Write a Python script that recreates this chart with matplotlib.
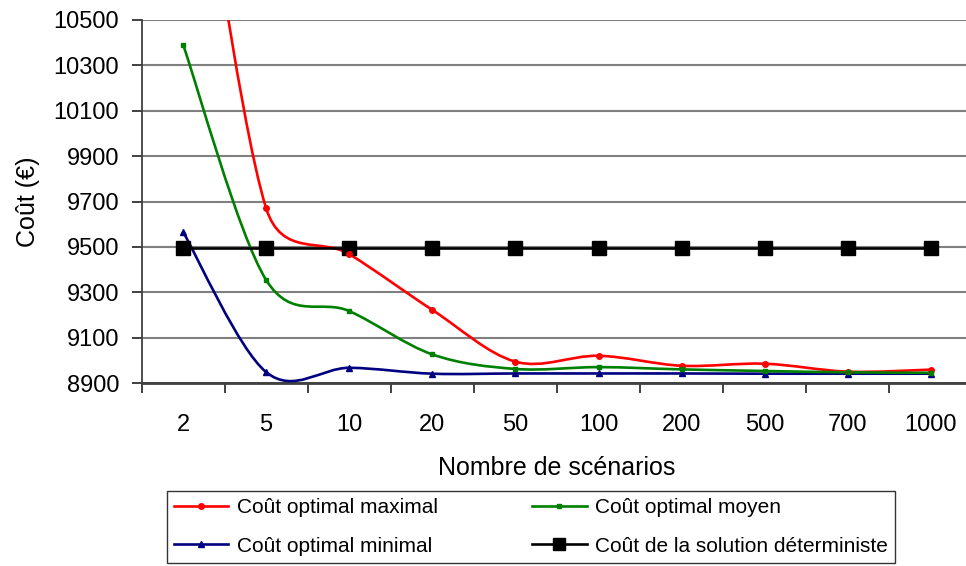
import matplotlib
matplotlib.use("Agg")
import numpy as np
import matplotlib.pyplot as plt
from matplotlib.path import Path
from matplotlib.patches import PathPatch
from matplotlib.lines import Line2D

plt.rcParams["font.family"] = ["Liberation Sans", "DejaVu Sans"]

CATEGORIES = ["2", "5", "10", "20", "50", "100", "200", "500", "700", "1000"]

COUT_MAX = [11800, 9670, 9468, 9222, 8994, 9020, 8976, 8985, 8950, 8959]
COUT_MOYEN = [10392, 9354, 9217, 9026, 8962, 8970, 8960, 8953, 8947, 8945]
COUT_MIN = [9566, 8948, 8967, 8941, 8942, 8942, 8942, 8941, 8941, 8941]
COUT_DETERMINISTE = [9497] * 10

Y_TICKS = list(range(8900, 10501, 200))

# pixel size of one unit on each axis, used to smooth in screen space
PX_X = 83.1
PX_Y = 363 / 1600


def smooth_path(xs, ys, cap=0.55):
    # bezier through the points, close to the spreadsheet "smoothed line"
    pts = np.column_stack([np.asarray(xs) * PX_X, np.asarray(ys) * PX_Y]).astype(float)
    n = len(pts)

    def ctrl(i, seg_len):
        p_prev = pts[i - 1] if i > 0 else pts[i]
        p_next = pts[i + 1] if i + 1 < n else pts[i]
        v = (p_next - p_prev) / 6
        norm = np.hypot(*v)
        if norm > cap * seg_len:
            v = v * cap * seg_len / norm
        return v

    verts = [pts[0]]
    codes = [Path.MOVETO]
    for i in range(n - 1):
        seg = np.hypot(*(pts[i + 1] - pts[i]))
        c1 = pts[i] + ctrl(i, seg)
        c2 = pts[i + 1] - ctrl(i + 1, seg)
        verts += [c1, c2, pts[i + 1]]
        codes += [Path.CURVE4] * 3
    verts = np.array(verts) / [PX_X, PX_Y]
    return Path(verts, codes)


fig = plt.figure(figsize=(9.66, 5.66), dpi=100)
ax = fig.add_axes([141.5 / 966, 183 / 566, 831 / 966, 363 / 566])

x = np.arange(len(CATEGORIES))

series = [
    (COUT_MAX, "#ff0000", "o", 4, "Coût optimal maximal", True),
    (COUT_MIN, "#000080", "^", 5, "Coût optimal minimal", True),
    (COUT_MOYEN, "#008000", "s", 3, "Coût optimal moyen", True),
    (COUT_DETERMINISTE, "#000000", "s", 10, "Coût de la solution déterministe", False),
]

handles = []
for values, color, marker, msize, label, smooth in series:
    if smooth:
        patch = PathPatch(smooth_path(x, values), facecolor="none",
                          edgecolor=color, lw=1.9, zorder=3)
        ax.add_patch(patch)
        ax.plot(x, values, linestyle="none", marker=marker, ms=msize,
                color=color, zorder=4)
    else:
        ax.plot(x, values, color=color, lw=1.9, marker=marker, ms=msize, zorder=3)
    handles.append(Line2D([], [], color=color, lw=1.9, marker=marker,
                          ms=msize if msize < 8 else 8))

ax.set_xlim(-0.5, len(CATEGORIES) - 0.5)
ax.set_ylim(8900, 10500)
ax.set_yticks(Y_TICKS)
ax.set_yticklabels([str(v) for v in Y_TICKS])
ax.set_xticks(x)
ax.set_xticklabels(CATEGORIES)
ax.set_xticks(np.arange(-0.5, len(CATEGORIES), 1), minor=True)

ax.grid(axis="y", color="#808080", lw=1.5)
ax.set_axisbelow(True)
for side in ["top", "right"]:
    ax.spines[side].set_visible(False)
ax.spines["left"].set_color("#404040")
ax.spines["left"].set_linewidth(1.3)
ax.spines["bottom"].set_color("#404040")
ax.spines["bottom"].set_linewidth(2.0)

ax.tick_params(axis="x", which="major", length=0, pad=22, labelsize=17)
ax.tick_params(axis="x", which="minor", length=7, width=1.2, color="#202020")
ax.tick_params(axis="y", length=7, width=1.2, pad=9, labelsize=17, color="#202020")

ax.set_xlabel("Nombre de scénarios", fontsize=18, labelpad=15)
ax.set_ylabel("Coût (€)", fontsize=18, labelpad=10)

leg = fig.legend(handles, [s[4] for s in series], ncol=2, fontsize=15,
                 loc="lower left", bbox_to_anchor=(167 / 966, 3 / 566, 728 / 966, 76 / 566),
                 mode="expand", frameon=True, fancybox=False, handlelength=2.6,
                 borderaxespad=0, handletextpad=0.4, labelspacing=0.95,
                 columnspacing=1.0, borderpad=0.35)
leg.get_frame().set_edgecolor("black")
leg.get_frame().set_linewidth(1.0)

fig.savefig("out.png", dpi=100)
